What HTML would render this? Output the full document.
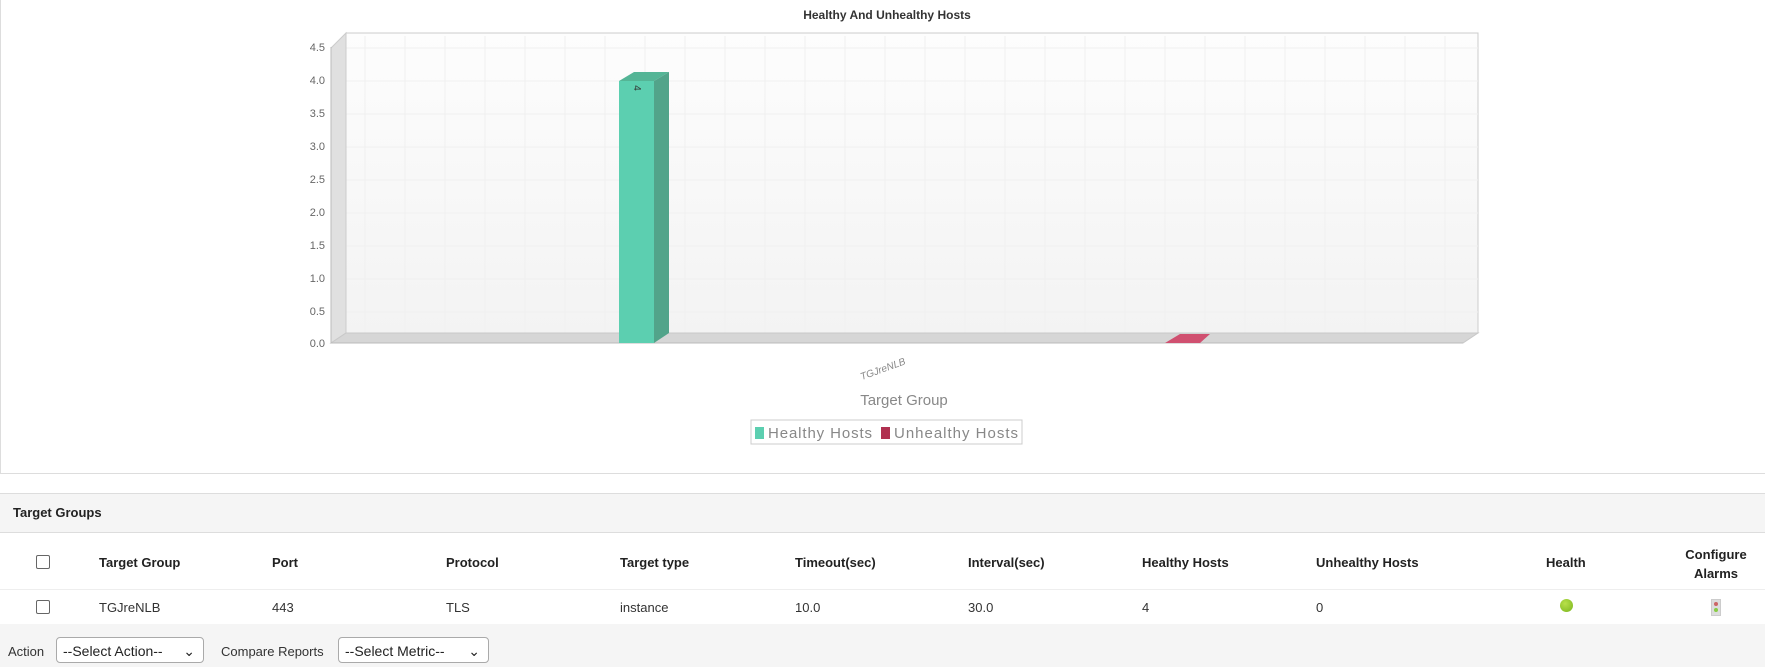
<!DOCTYPE html>
<html><head><meta charset="utf-8"><style>
body{margin:0;width:1765px;height:667px;background:#fff;font-family:"Liberation Sans",Arial,sans-serif;overflow:hidden;position:relative}
.abs{position:absolute}
.hd{font-weight:bold;font-size:13px;color:#222}
.td{font-size:13px;color:#333}
.cb{width:12px;height:12px;border:1px solid #666;border-radius:2px;background:#fff}
.sel{border:1px solid #aaa;border-radius:4px;background:#fff;font-size:14px;color:#222;height:26px;line-height:26px;padding-left:6px;box-sizing:border-box}
</style></head><body>
<div class="abs" style="left:0;top:0;width:1765px;height:474px;border-left:1px solid #ddd;border-bottom:1px solid #ddd;box-sizing:border-box"></div>
<svg class="abs" style="left:0;top:0" width="1765" height="474">
<defs><linearGradient id="bg" x1="0" y1="0" x2="0" y2="1"><stop offset="0" stop-color="#fdfdfd"/><stop offset="1" stop-color="#f3f3f3"/></linearGradient></defs>
<text x="887" y="19" text-anchor="middle" font-size="12" font-weight="bold" fill="#333" font-family="Liberation Sans">Healthy And Unhealthy Hosts</text>
<rect x="346" y="33" width="1132" height="300" fill="url(#bg)" stroke="#ccc"/>
<g stroke="#f0f0f0" stroke-width="1">
<line x1="346" y1="48" x2="1478" y2="48"/><line x1="346" y1="81" x2="1478" y2="81"/><line x1="346" y1="114" x2="1478" y2="114"/><line x1="346" y1="147" x2="1478" y2="147"/><line x1="346" y1="180" x2="1478" y2="180"/><line x1="346" y1="213" x2="1478" y2="213"/><line x1="346" y1="246" x2="1478" y2="246"/><line x1="346" y1="279" x2="1478" y2="279"/><line x1="346" y1="312" x2="1478" y2="312"/>
<line x1="365" y1="36" x2="365" y2="333"/><line x1="405" y1="36" x2="405" y2="333"/><line x1="445" y1="36" x2="445" y2="333"/><line x1="485" y1="36" x2="485" y2="333"/><line x1="525" y1="36" x2="525" y2="333"/><line x1="565" y1="36" x2="565" y2="333"/><line x1="605" y1="36" x2="605" y2="333"/><line x1="645" y1="36" x2="645" y2="333"/><line x1="685" y1="36" x2="685" y2="333"/><line x1="725" y1="36" x2="725" y2="333"/><line x1="765" y1="36" x2="765" y2="333"/><line x1="805" y1="36" x2="805" y2="333"/><line x1="845" y1="36" x2="845" y2="333"/><line x1="885" y1="36" x2="885" y2="333"/><line x1="925" y1="36" x2="925" y2="333"/><line x1="965" y1="36" x2="965" y2="333"/><line x1="1005" y1="36" x2="1005" y2="333"/><line x1="1045" y1="36" x2="1045" y2="333"/><line x1="1085" y1="36" x2="1085" y2="333"/><line x1="1125" y1="36" x2="1125" y2="333"/><line x1="1165" y1="36" x2="1165" y2="333"/><line x1="1205" y1="36" x2="1205" y2="333"/><line x1="1245" y1="36" x2="1245" y2="333"/><line x1="1285" y1="36" x2="1285" y2="333"/><line x1="1325" y1="36" x2="1325" y2="333"/><line x1="1365" y1="36" x2="1365" y2="333"/><line x1="1405" y1="36" x2="1405" y2="333"/><line x1="1445" y1="36" x2="1445" y2="333"/>
</g>
<polygon points="331,48 346,33 346,333 331,343" fill="#e0e0e0" stroke="#ccc"/>
<polygon points="331,343 346,333 1478,333 1463,343" fill="#d6d6d6" stroke="#c8c8c8"/>
<line x1="331" y1="343" x2="1463" y2="343" stroke="#bbb"/>
<line x1="331" y1="47" x2="331" y2="343" stroke="#bbb"/>
<g font-size="11" fill="#666" text-anchor="end" font-family="Liberation Sans">
<text x="325" y="51">4.5</text><text x="325" y="84">4.0</text><text x="325" y="117">3.5</text><text x="325" y="150">3.0</text><text x="325" y="183">2.5</text><text x="325" y="216">2.0</text><text x="325" y="249">1.5</text><text x="325" y="282">1.0</text><text x="325" y="315">0.5</text><text x="325" y="347">0.0</text>
</g>
<polygon points="619,81 634,72 669,72 654,81" fill="#54b596"/>
<polygon points="654,81 669,72 669,333 654,343" fill="#52a48a"/>
<rect x="619" y="81" width="35" height="262" fill="#5ccfb0"/>
<text x="634" y="88" font-size="10" fill="#333" transform="rotate(90 634 88)" text-anchor="middle">4</text>
<polygon points="1165,343 1180,334 1210,334 1200,343" fill="#d05070"/>
<text x="884" y="372" font-size="10" fill="#888" font-style="italic" transform="rotate(-20 884 372)" text-anchor="middle">TGJreNLB</text>
<text x="904" y="405" font-size="15" fill="#888" text-anchor="middle">Target Group</text>
<rect x="751" y="420" width="271" height="24" fill="#fff" stroke="#ccc"/>
<rect x="755" y="427" width="9" height="12" fill="#5ccfb0"/>
<text x="768" y="438" font-size="15" fill="#888" textLength="104">Healthy Hosts</text>
<rect x="881" y="427" width="9" height="12" fill="#b03050"/>
<text x="894" y="438" font-size="15" fill="#888" textLength="124">Unhealthy Hosts</text>
</svg>
<div class="abs" style="left:0;top:493px;width:1765px;height:40px;background:#f5f5f5;border-top:1px solid #ddd;border-bottom:1px solid #ddd;box-sizing:border-box"></div>
<div class="abs hd" style="left:13px;top:505px">Target Groups</div>
<div class="abs" style="left:0;top:589px;width:1765px;height:1px;background:#eee"></div>
<div class="abs" style="left:0;top:624px;width:1765px;height:43px;background:#f5f5f5"></div>
<div class="abs cb" style="left:36px;top:555px"></div>
<div class="abs cb" style="left:36px;top:600px"></div>
<div class="abs hd" style="left:99px;top:555px">Target Group</div>
<div class="abs hd" style="left:272px;top:555px">Port</div>
<div class="abs hd" style="left:446px;top:555px">Protocol</div>
<div class="abs hd" style="left:620px;top:555px">Target type</div>
<div class="abs hd" style="left:795px;top:555px">Timeout(sec)</div>
<div class="abs hd" style="left:968px;top:555px">Interval(sec)</div>
<div class="abs hd" style="left:1142px;top:555px">Healthy Hosts</div>
<div class="abs hd" style="left:1316px;top:555px">Unhealthy Hosts</div>
<div class="abs hd" style="left:1546px;top:555px">Health</div>
<div class="abs hd" style="left:1676px;top:545px;width:80px;text-align:center;line-height:19px">Configure Alarms</div>
<div class="abs td" style="left:99px;top:600px">TGJreNLB</div>
<div class="abs td" style="left:272px;top:600px">443</div>
<div class="abs td" style="left:446px;top:600px">TLS</div>
<div class="abs td" style="left:620px;top:600px">instance</div>
<div class="abs td" style="left:795px;top:600px">10.0</div>
<div class="abs td" style="left:968px;top:600px">30.0</div>
<div class="abs td" style="left:1142px;top:600px">4</div>
<div class="abs td" style="left:1316px;top:600px">0</div>
<div class="abs" style="left:1560px;top:599px;width:13px;height:13px;border-radius:50%;background:radial-gradient(circle at 40% 35%,#b8e04a,#7ab51d)"></div>
<div class="abs" style="left:1711px;top:599px;width:10px;height:17px;background:#ddd;border:1px solid #ccc;box-sizing:border-box"><div style="width:4px;height:4px;border-radius:50%;background:#c66;margin:2px auto"></div><div style="width:4px;height:4px;border-radius:50%;background:#8c4;margin:2px auto"></div></div>
<div class="abs td" style="left:8px;top:644px;font-size:13px">Action</div>
<div class="abs sel" style="left:56px;top:637px;width:148px">--Select Action--<span style="position:absolute;right:8px;top:0">&#8964;</span></div>
<div class="abs td" style="left:221px;top:644px;font-size:13px">Compare Reports</div>
<div class="abs sel" style="left:338px;top:637px;width:151px">--Select Metric--<span style="position:absolute;right:8px;top:0">&#8964;</span></div>
</body></html>
